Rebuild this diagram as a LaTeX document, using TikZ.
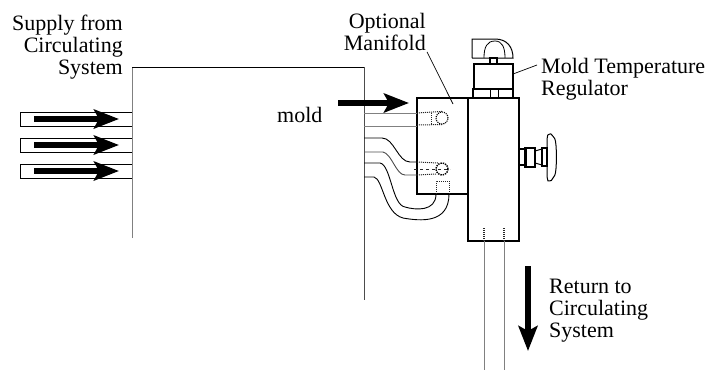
\documentclass[tikz,border=0pt]{standalone}
\usepackage{fontspec}
\setmainfont{Liberation Serif}
\usepackage{tikz}
\usetikzlibrary{positioning}
\usetikzlibrary{arrows.meta}
\tikzstyle{arrow} = [line width=5.5pt,-{Stealth[length=25pt,width=19pt,inset=5pt]}]
\tikzstyle{box} = [draw,line width=1.1pt,inner sep=0pt,outer sep=0pt,anchor=north west]
\tikzstyle{tube} = [draw,line width=0.8pt,inner sep=0pt,outer sep=0pt,anchor=north west,minimum width=112pt,minimum height=14pt]
\tikzstyle{pipe} = [line width=0.9pt]
\tikzstyle{graypipe} = [line width=1pt,black!50]
\tikzstyle{hidden} = [line width=1pt,densely dotted,black!85]
\tikzstyle{leader} = [line width=0.7pt]
\tikzstyle{label} = [font=\fontsize{22}{22}\selectfont,inner sep=0pt]

\begin{document}
\begin{tikzpicture}[x=1pt,y=-1pt]
	\useasboundingbox (0,0) rectangle (721,370);

	%Nodes
	\node (tube1) [tube] at (20,112) {};
	\node (tube2) [tube] at (20,138) {};
	\node (tube3) [tube] at (20,164) {};

	\node (manifold) [box,minimum width=51pt,minimum height=96pt] at (417,98) {};
	\node (regulator) [box,minimum width=51pt,minimum height=143pt] at (468,98) {};
	\node (collar) [box,minimum width=40pt,minimum height=9pt] at (473,89) {};
	\node (cap) [box,minimum width=39pt,minimum height=25pt] at (474,64) {};
	\node (stem) [box,minimum width=7pt,minimum height=6pt] at (490,58) {};
	\node (neck) [box,minimum width=7pt,minimum height=16pt] at (519,149) {};
	\node (nut) [box,minimum width=10pt,minimum height=19pt] at (525,148) {};
	\node (flange) [box,minimum width=5pt,minimum height=18pt] at (542,148) {};

	\node (supply) [label,align=right,anchor=north east] at (123,15) {Supply from\\Circulating\\System};
	\node (optional) [label,align=right,anchor=north east] at (426,13) {Optional\\Manifold};
	\node (temp) [label,align=left,anchor=north west] at (541,58) {Mold Temperature\\Regulator};
	\node (moldtext) [label,anchor=base west] at (277,122) {mold};
	\node (returntext) [label,align=left,anchor=north west] at (549,279) {Return to\\Circulating\\System};

	\node (valve1) [circle,draw,densely dotted,line width=1.1pt,minimum size=12pt,inner sep=0pt] at (442,118) {};
	\node (valve2) [circle,draw,densely dotted,line width=1.4pt,minimum size=12pt,inner sep=0pt] at (442,169) {};

	\coordinate (wallA) at (132,238);
	\coordinate (wallB) at (132,67);
	\coordinate (wallC) at (364,67);
	\coordinate (wallD) at (364,300);

	%Lines
	\draw[graypipe] (wallA) -- (wallB);
	\draw[leader] (wallB) -- (wallC);
	\draw[graypipe,black!70] (wallC) -- (wallD);

	\draw[arrow] (34,119) -- (119,119);
	\draw[arrow] (34,145) -- (119,145);
	\draw[arrow] (34,171) -- (119,171);
	\draw[arrow] (338,103) -- (409,103);
	\draw[arrow] (528,266) -- (528,351);

	\draw[leader] (optional.south east) ++(1,1) -- (453,104);
	\draw[leader] (temp.north west) ++(-4,7) -- (cap.east |- 0,74);

	%Knob on top
	\draw[line width=1pt] (stem.north -| collar.west) ++(-1,0) coordinate (handleA) -- (472,39) -- (495,39)
		.. controls (507,39) and (513,47) .. (513,58) -- (handleA);
	\draw[line width=0.8pt] (484,58) .. controls (484,47) and (487,41) .. (495,41)
		.. controls (502,41) and (505,47) .. (505,58);
	\draw[line width=0.9pt] (490,89) -- (490,98);
	\draw[line width=0.9pt] (498,89) -- (498,98);

	%Knob on the side
	\draw[line width=1pt] (nut.east |- 0,151) -- (flange.west |- 0,149) -- (flange.west |- 0,165) -- (nut.east |- 0,163);
	\draw[line width=1pt,rounded corners=3pt] (flange.east |- 0,148) -- (547,138) .. controls (548,134) and (551,134) .. (553,136)
		.. controls (557,142) and (557,172) .. (553,178) .. controls (551,181) and (548,181) .. (547,178) -- (flange.east |- 0,166);

	%Pipes
	\draw[graypipe] (wallC |- 0,113) -- (manifold.west |- 0,113);
	\draw[graypipe] (wallC |- 0,126) -- (manifold.west |- 0,126);
	\draw[pipe] (wallC |- 0,138) -- (382,138) .. controls (394,138) and (398,162) .. (410,162) -- (manifold.west |- 0,162);
	\draw[pipe,black!70] (wallC |- 0,152) -- (383,152) .. controls (392,154) and (396,175) .. (405,175) -- (manifold.west |- 0,175);
	\draw[pipe] (wallC |- 0,163) -- (380,163) .. controls (391,165) and (392,205) .. (405,207)
		.. controls (415,210) and (436,212) .. (436,194);
	\draw[pipe] (wallC |- 0,177) -- (374,177) .. controls (383,179) and (384,213) .. (403,218)
		.. controls (420,221) and (449,224) .. (449,194);
	\draw[graypipe] (484,241) -- (484,370);
	\draw[graypipe] (504,241) -- (504,370);

	%Hidden lines
	\draw[hidden] (manifold.west |- 0,113) -- (valve1.north);
	\draw[hidden] (manifold.west |- 0,125) -- (valve1.south);
	\draw[hidden] (431,113) -- (431,125);
	\draw[hidden] (manifold.west |- 0,162) -- (438,163);
	\draw[hidden] (manifold.west |- 0,175) -- (436,174);
	\draw[hidden,line width=0.7pt,dashed] (414,169) -- (450,169);
	\draw[hidden] (436,194) -- (436,181) -- (449,181) -- (449,194);
	\draw[hidden,line width=1.4pt] (484,228) -- (484,241);
	\draw[hidden,line width=1.4pt] (504,228) -- (504,241);
\end{tikzpicture}
\end{document}
